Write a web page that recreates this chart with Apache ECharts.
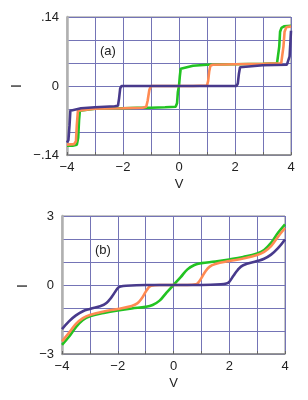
<!DOCTYPE html>
<html>
<head>
<meta charset="utf-8">
<script src="https://cdn.jsdelivr.net/npm/echarts@6/dist/echarts.min.js"></script>
<style>html,body{margin:0;padding:0;background:#fff;}#c{width:308px;height:400px;}</style>
</head>
<body>
<div id="c"></div>
<script>
// ---- Panel (a) data: [V, I]
var aGreen = [[-4,-0.121],[-3.8,-0.121],[-3.65,-0.119],[-3.6,-0.105],[-3.57,-0.07],[-3.54,-0.05],[-3.5,-0.047],[-3,-0.046],[-2.5,-0.045],[-2,-0.045],[-1.5,-0.044],[-1,-0.044],[-0.5,-0.043],[-0.12,-0.042],[-0.07,-0.035],[-0.04,-0.012],[0,0],[0.03,0.02],[0.06,0.035],[0.12,0.039],[0.5,0.041],[1,0.043],[2,0.044],[3,0.045],[3.5,0.046],[3.55,0.05],[3.58,0.08],[3.61,0.11],[3.66,0.118],[3.75,0.121],[4,0.122]];
var aOrange = [[-4,-0.119],[-3.75,-0.118],[-3.68,-0.112],[-3.65,-0.08],[-3.61,-0.05],[-3.55,-0.047],[-3,-0.046],[-2,-0.045],[-1.3,-0.044],[-1.17,-0.042],[-1.12,-0.03],[-1.06,-0.008],[-1.0,0],[-0.5,0],[0.5,0],[1.0,0.001],[1.04,0.01],[1.08,0.03],[1.12,0.041],[1.2,0.043],[2,0.044],[3,0.045],[3.65,0.046],[3.7,0.05],[3.73,0.08],[3.77,0.11],[3.83,0.119],[4,0.121]];
var aPurple = [[-4,-0.115],[-3.95,-0.11],[-3.91,-0.08],[-3.88,-0.05],[-3.82,-0.046],[-3.5,-0.045],[-3,-0.043],[-2.3,-0.041],[-2.18,-0.04],[-2.14,-0.025],[-2.1,-0.005],[-2.05,0],[0,0],[2.05,0],[2.1,0.005],[2.14,0.025],[2.18,0.038],[2.25,0.04],[3,0.042],[3.85,0.043],[3.92,0.046],[3.95,0.06],[3.98,0.09],[4,0.112]];

// ---- Panel (b) data: [V, I]
var bGreen = [[-4,-2.6],[-3.75,-2.25],[-3.5,-1.83],[-3.25,-1.52],[-3,-1.36],[-2.5,-1.22],[-2,-1.11],[-1.5,-1.02],[-1,-0.95],[-0.75,-0.87],[-0.5,-0.68],[-0.25,-0.33],[0,0],[0.25,0.33],[0.5,0.68],[0.75,0.87],[1,0.95],[1.5,1.02],[2,1.11],[2.5,1.22],[3,1.37],[3.25,1.52],[3.5,1.83],[3.75,2.27],[4,2.64]];
var bOrange = [[-4,-2.45],[-3.75,-2.08],[-3.5,-1.69],[-3.25,-1.44],[-3,-1.3],[-2.5,-1.15],[-2,-1.04],[-1.5,-0.91],[-1.3,-0.8],[-1.15,-0.6],[-1,-0.3],[-0.9,-0.12],[-0.8,-0.03],[-0.5,0],[0,0],[0.5,0],[0.8,0.03],[0.9,0.12],[1,0.3],[1.15,0.6],[1.3,0.8],[1.5,0.91],[2,1.04],[2.5,1.15],[3,1.3],[3.25,1.44],[3.5,1.69],[3.75,2.1],[4,2.48]];
var bPurple = [[-4,-1.92],[-3.75,-1.58],[-3.5,-1.32],[-3.25,-1.14],[-3,-1.04],[-2.5,-0.86],[-2.3,-0.65],[-2.15,-0.4],[-2,-0.14],[-1.9,-0.07],[-1.7,-0.03],[-1,0],[0,0],[1,0],[1.7,0.03],[1.9,0.07],[2,0.14],[2.15,0.4],[2.3,0.65],[2.5,0.86],[3,1.04],[3.25,1.14],[3.5,1.32],[3.75,1.6],[4,1.98]];

// ---- Tick labels
var xTickLabels = {'-4':'\u22124','-2':'\u22122','0':'0','2':'2','4':'4'};
var aYTickLabels = {'-0.14':'\u2212.14','0':'0','0.14':'.14'};
var bYTickLabels = {'-3':'\u22123','0':'0','3':'3'};

var GREEN = '#22c322', ORANGE = '#ff8a52', PURPLE = '#483a8c';
var GRIDC = '#7474b6';
var FONT = 'Liberation Sans, Arial, Helvetica, sans-serif';

function fmtX(v){ var k = String(Math.round(v)); return (Math.abs(v - Math.round(v)) < 1e-6 && xTickLabels[k] !== undefined) ? xTickLabels[k] : ''; }
function fmtAY(v){ var r = Math.round(v*100)/100; if (Math.abs(v-r) > 1e-4) return ''; var k = String(r); return aYTickLabels[k] !== undefined ? aYTickLabels[k] : ''; }
function fmtBY(v){ var r = Math.round(v); if (Math.abs(v-r) > 1e-6) return ''; var k = String(r); return bYTickLabels[k] !== undefined ? bYTickLabels[k] : ''; }

function xAxisCfg(idx){
  return {
    type:'value', gridIndex: idx, min:-4, max:4, interval:1,
    name:'V', nameLocation:'middle', nameGap:23,
    nameTextStyle:{fontFamily:FONT, fontSize:13, color:'#222'},
    axisLine:{show:true, onZero:false, lineStyle:{color:'#888', width:1.5}},
    axisTick:{show:true, inside:true, length:3, lineStyle:{color:'#666'}},
    axisLabel:{formatter: fmtX, fontFamily:FONT, fontSize:13, color:'#222', margin:6, showMinLabel:true, showMaxLabel:true},
    splitLine:{show:true, lineStyle:{color:GRIDC, width:1}}
  };
}
function yAxisCfg(idx, min, max, interval, fmt){
  return {
    type:'value', gridIndex: idx, min:min, max:max, interval:interval,
    axisLine:{show:true, onZero:false, lineStyle:{color:'#b0b0b0', width:2.5}},
    axisTick:{show:false},
    axisLabel:{formatter: fmt, fontFamily:FONT, fontSize:13, color:'#222', margin:8, showMinLabel:true, showMaxLabel:true},
    splitLine:{show:true, lineStyle:{color:GRIDC, width:1}}
  };
}
function ser(data, color, xi, smooth){
  return {type:'line', xAxisIndex:xi, yAxisIndex:xi, data:data, showSymbol:false, smooth:smooth,
    lineStyle:{color:color, width:2.6}, itemStyle:{color:color}, z:3, animation:false};
}

var chart = echarts.init(document.getElementById('c'), null, {renderer:'canvas'});
chart.setOption({
  backgroundColor:'#fff',
  animation:false,
  grid:[
    {left:67, width:224, top:17, height:138, show:true, borderColor:'#8a8a8a', borderWidth:1},
    {left:62, width:223, top:216, height:138, show:true, borderColor:'#8a8a8a', borderWidth:1}
  ],
  xAxis:[xAxisCfg(0), xAxisCfg(1)],
  yAxis:[yAxisCfg(0, -0.14, 0.14, 0.14/3, fmtAY), yAxisCfg(1, -3, 3, 1, fmtBY)],
  graphic:[
    {type:'text', left:100, top:45, style:{text:'(a)', font:'13px ' + FONT, fill:'#222'}},
    {type:'text', left:95, top:244, style:{text:'(b)', font:'13px ' + FONT, fill:'#222'}},
    {type:'text', x:10, y:88, rotation:Math.PI/2, style:{text:'I', font:'14px ' + FONT, fill:'#222'}},
    {type:'text', x:16, y:288, rotation:Math.PI/2, style:{text:'I', font:'14px ' + FONT, fill:'#222'}}
  ],
  series:[
    ser(aGreen, GREEN, 0, false), ser(aOrange, ORANGE, 0, false), ser(aPurple, PURPLE, 0, false),
    ser(bGreen, GREEN, 1, 0.4), ser(bOrange, ORANGE, 1, 0.4), ser(bPurple, PURPLE, 1, 0.4)
  ]
});
</script>
</body>
</html>
